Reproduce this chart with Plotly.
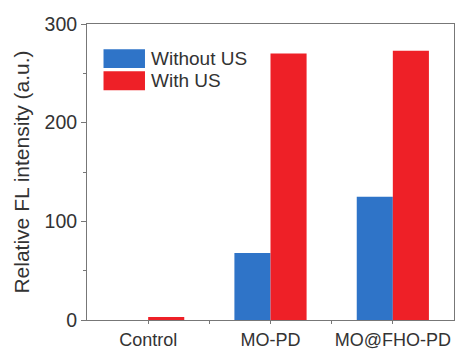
import plotly.graph_objects as go

categories = ["Control", "MO-PD", "MO@FHO-PD"]
without_us = [0, 68, 125]
with_us = [3, 270, 273]
y_ticks = [0, 100, 200, 300]

FONT = "Liberation Sans, Arial, sans-serif"
TXT = "#333333"
BLUE = "#2f74c8"
RED = "#ee2027"

x_pos = list(range(len(categories)))

fig = go.Figure()
fig.add_trace(go.Bar(x=x_pos, y=without_us, name="Without US",
                     marker=dict(color=BLUE, line=dict(width=0))))
fig.add_trace(go.Bar(x=x_pos, y=with_us, name="With US",
                     marker=dict(color=RED, line=dict(width=0))))

# legend drawn as coloured patches with labels
legend_items = [("Without US", BLUE), ("With US", RED)]
for i, (label, color) in enumerate(legend_items):
    y0 = 0.915 - i * 0.075
    fig.add_shape(type="rect", xref="paper", yref="paper",
                  x0=0.045, x1=0.158, y0=y0 - 0.064, y1=y0,
                  fillcolor=color, line=dict(width=0))
    fig.add_annotation(xref="paper", yref="paper", x=0.17, y=y0 - 0.032,
                       text=label, showarrow=False, xanchor="left", yanchor="middle",
                       font=dict(family=FONT, size=19, color=TXT))

fig.update_layout(
    width=463, height=349,
    margin=dict(l=87, r=9, t=24, b=29),
    paper_bgcolor="white", plot_bgcolor="white",
    barmode="group", bargap=0.41, bargroupgap=0,
    showlegend=False,
    font=dict(family=FONT, size=19, color=TXT),
)
fig.update_xaxes(
    range=[-0.5, 2.5], automargin=False,
    tickvals=x_pos, ticktext=categories,
    showline=True, linecolor="#777777", linewidth=1, mirror=True,
    ticks="outside", ticklen=3, tickcolor="#777777",
    minor=dict(tickvals=[0.5, 1.5], ticks="outside", ticklen=3, tickcolor="#777777"),
    showgrid=False, zeroline=False,
    tickfont=dict(family=FONT, size=18, color=TXT),
)
fig.update_yaxes(
    range=[0, 300], automargin=False,
    tickvals=y_ticks,
    showline=True, linecolor="#777777", linewidth=1, mirror=True,
    ticks="outside", ticklen=5, tickcolor="#777777",
    minor=dict(tickvals=[50, 150, 250], ticks="outside", ticklen=3, tickcolor="#777777"),
    showgrid=False, zeroline=False,
    tickfont=dict(family=FONT, size=19.5, color=TXT),
    title=dict(text="Relative FL intensity (a.u.)", standoff=9,
               font=dict(family=FONT, size=21, color=TXT)),
)

fig.write_html("out.html")
